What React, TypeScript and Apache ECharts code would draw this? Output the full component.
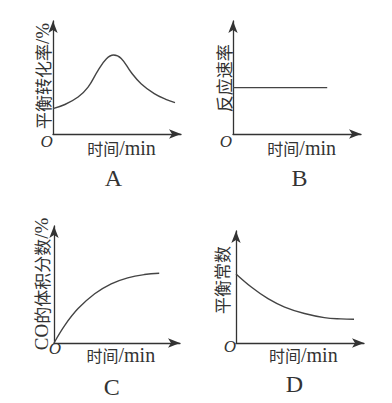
import React, { useEffect, useRef } from "react";
import * as echarts from "echarts";

// ---- data (x: time in arbitrary units 0..10, y: value 0..10) ----
const curveA: number[][] = [
  [0, 2.25], [0.93, 2.61], [1.96, 3.27], [2.74, 4.15], [3.51, 5.61], [4.16, 6.64],
  [4.73, 6.99], [5.33, 6.69], [6.1, 5.46], [6.88, 4.45], [7.91, 3.57], [8.81, 3.07], [9.53, 2.78],
];
const lineB: number[][] = [[0, 4.1], [7.36, 4.1]];
const curveC: number[][] = [
  [0, 0], [0.87, 1.53], [1.91, 2.94], [3.23, 4.21], [4.54, 5.06], [5.85, 5.57], [7.17, 5.85], [8.35, 5.96],
];
const curveD: number[][] = [
  [0, 6.17], [1.22, 4.98], [2.5, 3.96], [3.8, 3.21], [5.35, 2.63], [6.9, 2.27], [8.19, 2.15], [9.22, 2.12],
];
const yTitles = ["平衡转化率/%", "反应速率", "CO的体积分数/%", "平衡常数"];
const xTitle = "时间/min";
const originLabel = "O";
const panelLetters = ["A", "B", "C", "D"];

// ---- layout ----
const grids = [
  { left: 53, top: 21, width: 128, height: 113 },
  { left: 233, top: 21, width: 128, height: 113 },
  { left: 54, top: 226, width: 126, height: 117 },
  { left: 236, top: 231, width: 128, height: 112 },
];
const yTitlePos = [[42.5, 76], [223, 78.3], [41.7, 284], [221.7, 280]];
const originPos = [[46.7, 141.7], [226, 141.7], [55, 348.7], [230, 346.7]];
const xTitlePos = [[121.5, 147.7], [301.7, 147.7], [120.8, 355], [303.3, 355]];
const letterPos = [[113.3, 178.3], [299.5, 178.3], [111.7, 387], [294.5, 384]];

const INK = "#333";
const CJK = "'Noto Sans CJK SC', sans-serif";
const SERIF = "'Liberation Serif', 'DejaVu Serif', serif";

function toRich(s: string): string {
  const runs: string[] = [];
  let cur = "";
  let curType = "";
  for (const ch of s) {
    const t = /[\u3000-\u9fff]/.test(ch) ? "c" : "l";
    if (t !== curType && cur) {
      runs.push(`{${curType}|${cur}}`);
      cur = "";
    }
    curType = t;
    cur += ch;
  }
  if (cur) runs.push(`{${curType}|${cur}}`);
  return runs.join("");
}

const richStyles = (cjk: number, lat: number) => ({
  c: { fontFamily: CJK, fontSize: cjk, fill: INK, color: INK },
  l: { fontFamily: SERIF, fontSize: lat, fill: INK, color: INK },
});

export default function App() {
  const ref = useRef<HTMLDivElement>(null);
  useEffect(() => {
    if (!ref.current) return;
    const chart = echarts.init(ref.current, undefined, { renderer: "svg" });
    const seriesData = [curveA, lineB, curveC, curveD];
    const axisLine = {
      show: true,
      onZero: false,
      symbol: ["none", "arrow"],
      symbolSize: [7, 12],
      lineStyle: { color: INK, width: 1.3 },
    };
    const baseAxis = {
      type: "value" as const,
      min: 0,
      max: 10,
      axisLine,
      axisTick: { show: false },
      axisLabel: { show: false },
      splitLine: { show: false },
    };
    const graphic: any[] = [];
    for (let i = 0; i < 4; i++) {
      graphic.push({
        type: "text",
        x: yTitlePos[i][0],
        y: yTitlePos[i][1],
        rotation: Math.PI / 2,
        style: {
          text: toRich(yTitles[i]),
          align: "center",
          verticalAlign: "middle",
          rich: richStyles(17, 19),
          fill: INK,
        },
      });
      graphic.push({
        type: "text",
        x: xTitlePos[i][0],
        y: xTitlePos[i][1],
        style: {
          text: toRich(xTitle),
          align: "center",
          verticalAlign: "middle",
          rich: richStyles(16, 20),
          fill: INK,
        },
      });
      graphic.push({
        type: "text",
        x: originPos[i][0],
        y: originPos[i][1],
        style: {
          text: originLabel,
          align: "center",
          verticalAlign: "middle",
          font: `italic 17px ${SERIF}`,
          fill: INK,
        },
      });
      graphic.push({
        type: "text",
        x: letterPos[i][0],
        y: letterPos[i][1],
        style: {
          text: panelLetters[i],
          align: "center",
          verticalAlign: "middle",
          font: `24px ${SERIF}`,
          fill: INK,
        },
      });
    }
    chart.setOption({
      animation: false,
      backgroundColor: "#fff",
      grid: grids.map((g) => ({ ...g, containLabel: false })),
      xAxis: grids.map((_, i) => ({ ...baseAxis, gridIndex: i, position: "bottom" })),
      yAxis: grids.map((_, i) => ({ ...baseAxis, gridIndex: i, position: "left" })),
      series: seriesData.map((d, i) => ({
        type: "line",
        xAxisIndex: i,
        yAxisIndex: i,
        data: d,
        smooth: i === 1 ? false : 0.4,
        showSymbol: false,
        symbol: "none",
        lineStyle: { color: "#444", width: 1.4 },
      })),
      graphic,
    });
    return () => chart.dispose();
  }, []);
  return (
    <div
      ref={ref}
      style={{ position: "fixed", left: 0, top: 0, width: 392, height: 403, background: "#fff" }}
    />
  );
}
